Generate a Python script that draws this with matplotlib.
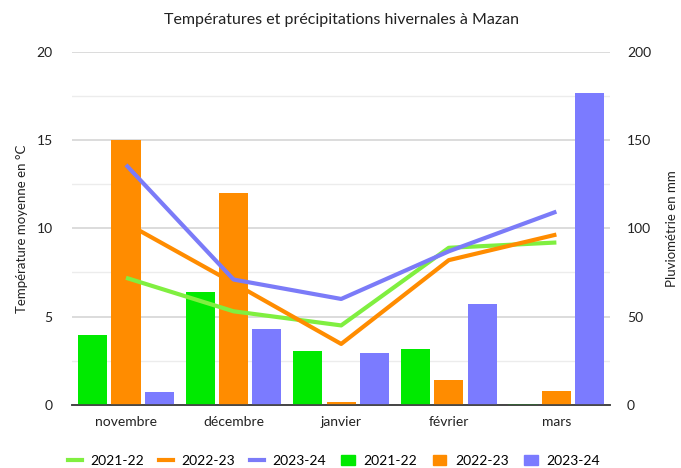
import matplotlib.pyplot as plt
import numpy as np
from matplotlib.lines import Line2D
from matplotlib.patches import Patch

plt.rcParams['font.family'] = ['Lato', 'DejaVu Sans']

months = ["novembre", "décembre", "janvier", "février", "mars"]
seasons = ["2021-22", "2022-23", "2023-24"]

# mean temperature, °C (left axis)
temp_2122 = [7.2, 5.3, 4.5, 8.9, 9.2]
temp_2223 = [10.3, 6.9, 3.45, 8.2, 9.65]
temp_2324 = [13.6, 7.1, 6.0, 8.7, 10.95]

# rainfall, mm (right axis)
rain_2122 = [39.5, 64, 30.5, 31.8, 0.5]
rain_2223 = [150, 120, 1.7, 13.9, 7.9]
rain_2324 = [7.5, 42.7, 29.2, 57.2, 176.5]

line_colors = ["#80ef40", "#ff8c00", "#7b7bf8"]
bar_colors = ["#00ea00", "#ff8c00", "#7b7bff"]

fig = plt.figure(figsize=(6.81, 4.68), dpi=100)
ax = fig.add_axes([0.106, 0.135, 0.79, 0.754])
ax2 = ax.twinx()

x = np.arange(len(months))
offset = 0.31 ; width = 0.27

# bars on the rain axis
for i, rain in enumerate([rain_2122, rain_2223, rain_2324]):
    ax.bar(x + (i - 1) * offset, rain, width, color = bar_colors[i], zorder = 3)

ax.set_ylim(0, 200)
ax.set_yticks(np.arange(0, 201, 50))
ax.set_yticks(np.arange(25, 200, 50), minor = True)
ax.yaxis.tick_right()
ax.yaxis.set_label_position("right")
ax.set_ylabel("Pluviométrie en mm", fontsize = 9.5, color = "#222222", labelpad = 11)
ax.grid(axis = "y", which = "major", color = "#d6d6d6", linewidth = 1.2, zorder = 0)
ax.grid(axis = "y", which = "minor", color = "#ececec", linewidth = 1.0, zorder = 0)
ax.tick_params(axis = "y", which = "both", length = 0, pad = 12, labelsize = 10, labelcolor = "#222222")

# temperature lines on the twin axis
for i, temp in enumerate([temp_2122, temp_2223, temp_2324]):
    ax2.plot(x, temp, color = line_colors[i], linewidth = 3.0, solid_capstyle = "butt", zorder = 4)

ax2.set_ylim(0, 20)
ax2.set_yticks(np.arange(0, 21, 5))
ax2.yaxis.tick_left()
ax2.yaxis.set_label_position("left")
ax2.set_ylabel("Température moyenne en °C", fontsize = 9.5, color = "#222222", labelpad = 6)
ax2.tick_params(axis = "y", length = 0, pad = 14, labelsize = 10, labelcolor = "#222222")

ax.set_xlim(-0.5, len(months) - 0.5)
ax.set_xticks(x)
ax.set_xticklabels(months)
ax.tick_params(axis = "x", length = 0, pad = 8, labelsize = 10, labelcolor = "#222222")

for a in [ax, ax2]:
    for side in ["top", "left", "right"]:
        a.spines[side].set_visible(False)
    a.spines["bottom"].set_color("#444444")
    a.spines["bottom"].set_linewidth(1.2)

ax.set_title("Températures et précipitations hivernales à Mazan", fontsize = 11.5, color = "#222222", pad = 20)

handles = [Line2D([0], [0], color = c, linewidth = 3) for c in line_colors]
handles += [Patch(color = c) for c in bar_colors]
fig.legend(handles, seasons + seasons, loc = "lower center", ncol = 6, frameon = False,
           bbox_to_anchor = (0.49, -0.025), fontsize = 10, handlelength = 1.0,
           handletextpad = 0.6, columnspacing = 1.1)

plt.savefig("out.png", dpi = 100)
